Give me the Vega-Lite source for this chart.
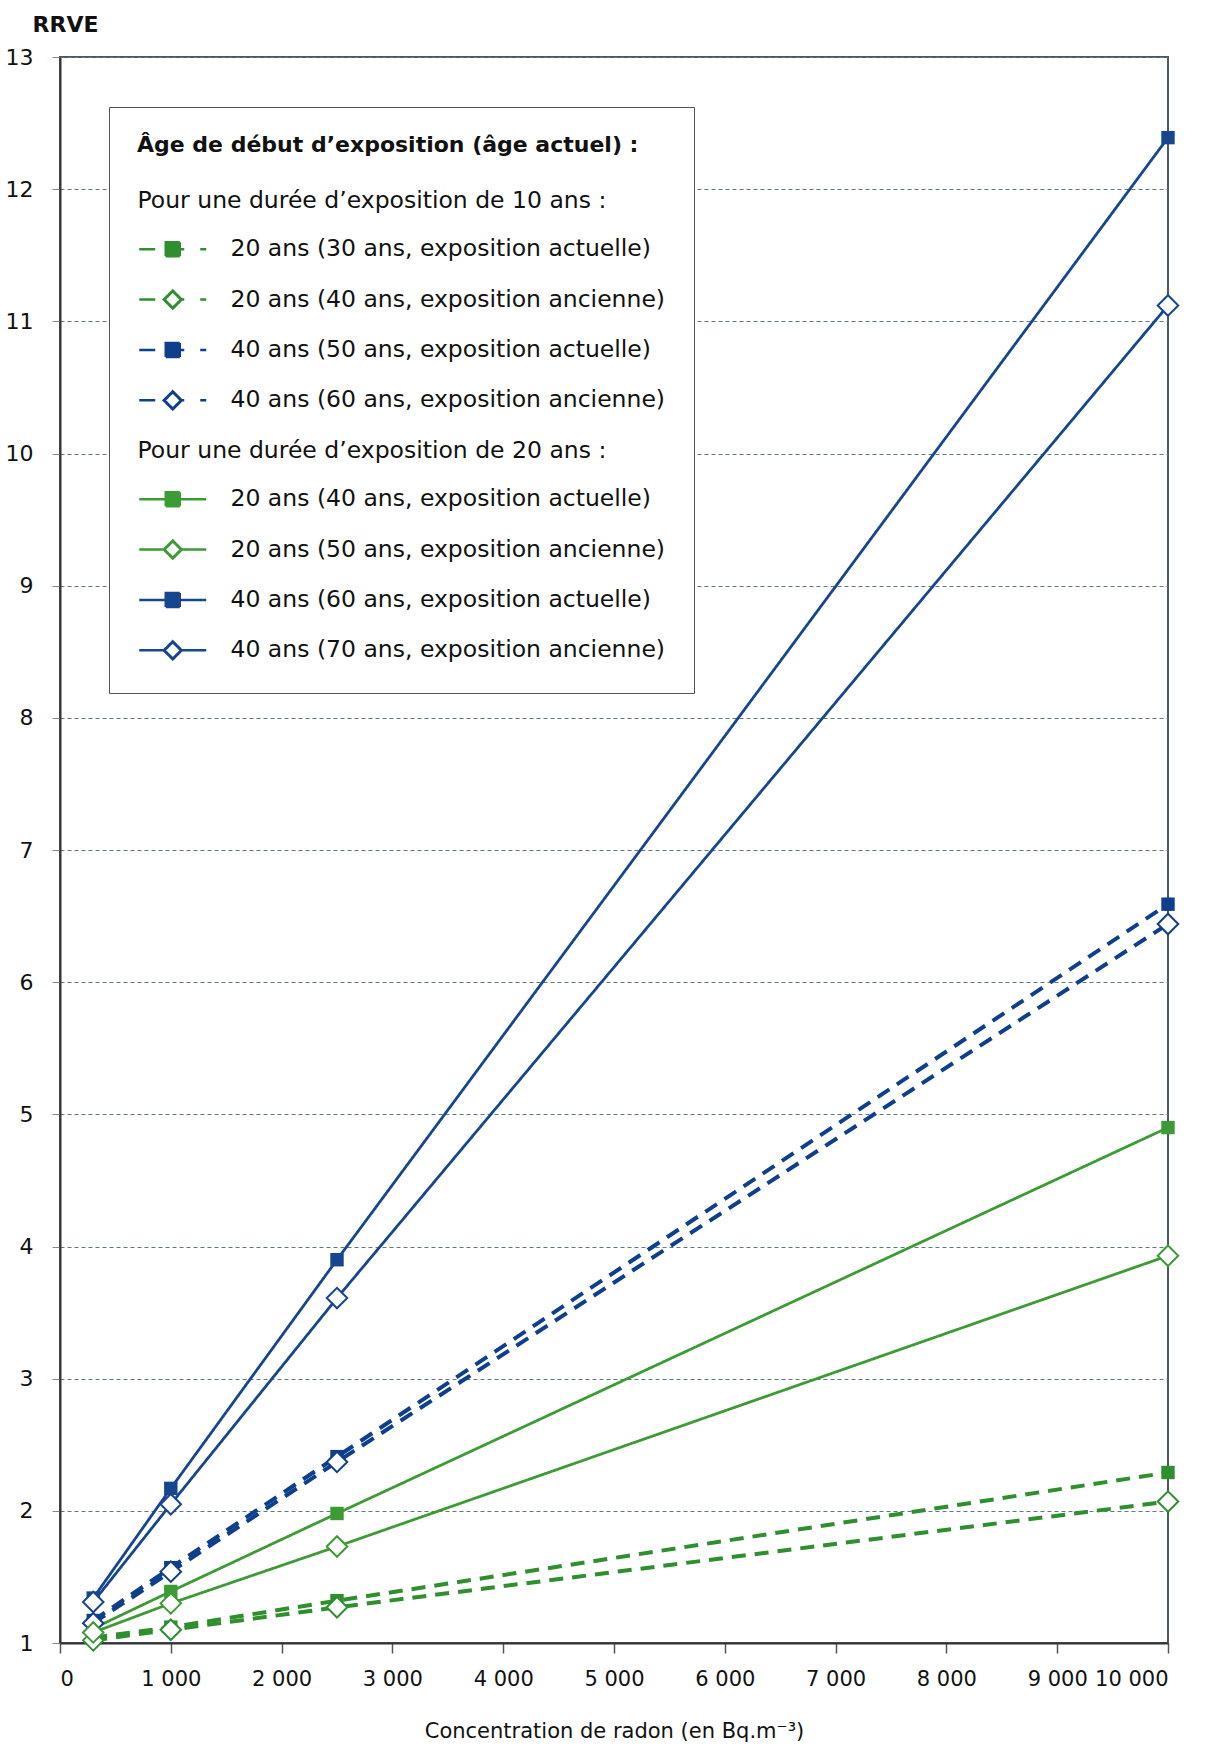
{
  "$schema": "https://vega.github.io/schema/vega-lite/v6.json",
  "width": 1108,
  "height": 1586,
  "autosize": {"type": "none"},
  "padding": {"left": 60, "top": 57, "right": 45, "bottom": 104},
  "background": "white",
  "config": {
    "view": {"stroke": "#4a5a60", "strokeWidth": 2},
    "font": "DejaVu Sans"
  },
  "data": {
    "values": [
      {"serie": "20 ans (30 ans, exposition actuelle)", "duree": "10 ans", "type": "actuelle", "x": 300, "y": 1.04},
      {"serie": "20 ans (30 ans, exposition actuelle)", "duree": "10 ans", "type": "actuelle", "x": 1000, "y": 1.12},
      {"serie": "20 ans (30 ans, exposition actuelle)", "duree": "10 ans", "type": "actuelle", "x": 2500, "y": 1.32},
      {"serie": "20 ans (30 ans, exposition actuelle)", "duree": "10 ans", "type": "actuelle", "x": 10000, "y": 2.29},
      {"serie": "20 ans (40 ans, exposition ancienne)", "duree": "10 ans", "type": "ancienne", "x": 300, "y": 1.02},
      {"serie": "20 ans (40 ans, exposition ancienne)", "duree": "10 ans", "type": "ancienne", "x": 1000, "y": 1.10},
      {"serie": "20 ans (40 ans, exposition ancienne)", "duree": "10 ans", "type": "ancienne", "x": 2500, "y": 1.27},
      {"serie": "20 ans (40 ans, exposition ancienne)", "duree": "10 ans", "type": "ancienne", "x": 10000, "y": 2.07},
      {"serie": "40 ans (50 ans, exposition actuelle)", "duree": "10 ans", "type": "actuelle", "x": 300, "y": 1.17},
      {"serie": "40 ans (50 ans, exposition actuelle)", "duree": "10 ans", "type": "actuelle", "x": 1000, "y": 1.57},
      {"serie": "40 ans (50 ans, exposition actuelle)", "duree": "10 ans", "type": "actuelle", "x": 2500, "y": 2.41},
      {"serie": "40 ans (50 ans, exposition actuelle)", "duree": "10 ans", "type": "actuelle", "x": 10000, "y": 6.59},
      {"serie": "40 ans (60 ans, exposition ancienne)", "duree": "10 ans", "type": "ancienne", "x": 300, "y": 1.15},
      {"serie": "40 ans (60 ans, exposition ancienne)", "duree": "10 ans", "type": "ancienne", "x": 1000, "y": 1.54},
      {"serie": "40 ans (60 ans, exposition ancienne)", "duree": "10 ans", "type": "ancienne", "x": 2500, "y": 2.37},
      {"serie": "40 ans (60 ans, exposition ancienne)", "duree": "10 ans", "type": "ancienne", "x": 10000, "y": 6.44},
      {"serie": "20 ans (40 ans, exposition actuelle)", "duree": "20 ans", "type": "actuelle", "x": 300, "y": 1.11},
      {"serie": "20 ans (40 ans, exposition actuelle)", "duree": "20 ans", "type": "actuelle", "x": 1000, "y": 1.39},
      {"serie": "20 ans (40 ans, exposition actuelle)", "duree": "20 ans", "type": "actuelle", "x": 2500, "y": 1.98},
      {"serie": "20 ans (40 ans, exposition actuelle)", "duree": "20 ans", "type": "actuelle", "x": 10000, "y": 4.90},
      {"serie": "20 ans (50 ans, exposition ancienne)", "duree": "20 ans", "type": "ancienne", "x": 300, "y": 1.08},
      {"serie": "20 ans (50 ans, exposition ancienne)", "duree": "20 ans", "type": "ancienne", "x": 1000, "y": 1.30},
      {"serie": "20 ans (50 ans, exposition ancienne)", "duree": "20 ans", "type": "ancienne", "x": 2500, "y": 1.73},
      {"serie": "20 ans (50 ans, exposition ancienne)", "duree": "20 ans", "type": "ancienne", "x": 10000, "y": 3.93},
      {"serie": "40 ans (60 ans, exposition actuelle)", "duree": "20 ans", "type": "actuelle", "x": 300, "y": 1.34},
      {"serie": "40 ans (60 ans, exposition actuelle)", "duree": "20 ans", "type": "actuelle", "x": 1000, "y": 2.17},
      {"serie": "40 ans (60 ans, exposition actuelle)", "duree": "20 ans", "type": "actuelle", "x": 2500, "y": 3.90},
      {"serie": "40 ans (60 ans, exposition actuelle)", "duree": "20 ans", "type": "actuelle", "x": 10000, "y": 12.39},
      {"serie": "40 ans (70 ans, exposition ancienne)", "duree": "20 ans", "type": "ancienne", "x": 300, "y": 1.31},
      {"serie": "40 ans (70 ans, exposition ancienne)", "duree": "20 ans", "type": "ancienne", "x": 1000, "y": 2.05},
      {"serie": "40 ans (70 ans, exposition ancienne)", "duree": "20 ans", "type": "ancienne", "x": 2500, "y": 3.61},
      {"serie": "40 ans (70 ans, exposition ancienne)", "duree": "20 ans", "type": "ancienne", "x": 10000, "y": 11.12}
    ]
  },
  "encoding": {
    "x": {
      "field": "x", "type": "quantitative",
      "scale": {"domain": [0, 10000], "nice": false, "zero": false},
      "axis": {
        "values": [0, 1000, 2000, 3000, 4000, 5000, 6000, 7000, 8000, 9000, 10000],
        "labelExpr": "replace(format(datum.value, ','), ',', ' ')",
        "grid": false,
        "tickSize": 10, "tickColor": "#555", "tickWidth": 1.5,
        "domainColor": "#333", "domainWidth": 2,
        "labelFontSize": 21, "labelColor": "#111", "labelPadding": 15,
        "title": "Concentration de radon (en Bq.m⁻³)",
        "titleFontSize": 21, "titleFontWeight": "normal", "titleColor": "#111", "titlePadding": 31
      }
    },
    "y": {
      "field": "y", "type": "quantitative",
      "scale": {"domain": [1, 13], "nice": false, "zero": false},
      "axis": {
        "values": [1, 2, 3, 4, 5, 6, 7, 8, 9, 10, 11, 12, 13],
        "grid": true, "gridDash": [4, 3], "gridColor": "#5f7a85", "gridWidth": 1.2,
        "tickSize": 8, "tickColor": "#888",
        "domainColor": "#333", "domainWidth": 2,
        "labelFontSize": 22, "labelColor": "#111", "labelPadding": 19,
        "title": "RRVE", "titleAngle": 0, "titleAlign": "left", "titleBaseline": "alphabetic",
        "titleX": -28, "titleY": -26, "titleFontSize": 22, "titleFontWeight": "bold", "titleColor": "#111"
      }
    }
  },
  "layer": [
    {
      "mark": {"type": "line", "strokeCap": "butt"},
      "encoding": {
        "color": {
          "field": "serie", "type": "nominal",
          "scale": {
            "domain": [
              "Pour une durée d’exposition de 10 ans :",
              "20 ans (30 ans, exposition actuelle)",
              "20 ans (40 ans, exposition ancienne)",
              "40 ans (50 ans, exposition actuelle)",
              "40 ans (60 ans, exposition ancienne)",
              "Pour une durée d’exposition de 20 ans :",
              "20 ans (40 ans, exposition actuelle)",
              "20 ans (50 ans, exposition ancienne)",
              "40 ans (60 ans, exposition actuelle)",
              "40 ans (70 ans, exposition ancienne)"
            ],
            "range": ["#ffffff", "#2f8f2f", "#2f8f2f", "#0f3f8c", "#0f3f8c", "#ffffff", "#3d9b35", "#3d9b35", "#17468f", "#17468f"]
          },
          "legend": {
            "title": "Âge de début d’exposition (âge actuel) :",
            "orient": "none", "legendX": 49, "legendY": 50,
            "titleFontSize": 22, "titleFontWeight": "bold", "titleColor": "#111", "titlePadding": 32, "titleLimit": 800,
            "labelFontSize": 23.5, "labelColor": "#111", "labelLimit": 800,
            "symbolSize": 400, "symbolOffset": 24, "labelOffset": 46, "rowPadding": 23.4,
            "symbolStrokeWidth": 2.5,
            "padding": 28, "strokeColor": "#555", "fillColor": "white",
            "encode": {
              "symbols": {
                "update": {
                  "shape": {"signal": "datum.index < 5 ? (indexof(datum.value, 'actuelle') >= 0 ? 'M-3.35,0H-1.75M-0.7,-0.7H0.7V0.7H-0.7ZM0.7,0H1.15M2.75,0H3.35' : 'M-3.35,0H-1.75M-0.9,0L0,-0.9L0.9,0L0,0.9ZM-0.83,0L0,0.83L0.83,0L0,-0.83ZM0.9,0H1.15M2.75,0H3.35') : (indexof(datum.value, 'actuelle') >= 0 ? 'M-3.35,0H-0.7M-0.7,-0.7H0.7V0.7H-0.7ZM0.7,0H3.35' : 'M-3.35,0H-0.9M-0.9,0L0,-0.9L0.9,0L0,0.9ZM-0.83,0L0,0.83L0.83,0L0,-0.83ZM0.9,0H3.35')"},
                  "strokeDash": {"value": [1, 0]},
                  "strokeWidth": {"value": 2.5},
                  "opacity": {"signal": "datum.index == 0 || datum.index == 5 ? 0 : 1"}
                }
              },
              "labels": {
                "update": {
                  "dx": {"signal": "datum.index == 0 || datum.index == 5 ? -93 : 0"}
                }
              }
            }
          }
        },
        "strokeDash": {
          "field": "duree", "type": "nominal",
          "scale": {"domain": ["10 ans", "20 ans"], "range": [[14, 9], [1, 0]]},
          "legend": null
        },
        "strokeWidth": {
          "field": "duree", "type": "ordinal",
          "scale": {"domain": ["10 ans", "20 ans"], "range": [4, 2.8]},
          "legend": null
        }
      }
    },
    {
      "transform": [{"filter": "datum.type == 'actuelle'"}],
      "mark": {"type": "point", "shape": "square", "filled": true, "size": 180, "opacity": 1},
      "encoding": {
        "color": {"field": "serie", "type": "nominal", "legend": null}
      }
    },
    {
      "transform": [{"filter": "datum.type == 'ancienne'"}],
      "mark": {"type": "point", "shape": "diamond", "filled": false, "fill": "white", "fillOpacity": 1, "strokeWidth": 2, "size": 420, "opacity": 1},
      "encoding": {
        "color": {"field": "serie", "type": "nominal", "legend": null}
      }
    }
  ]
}
